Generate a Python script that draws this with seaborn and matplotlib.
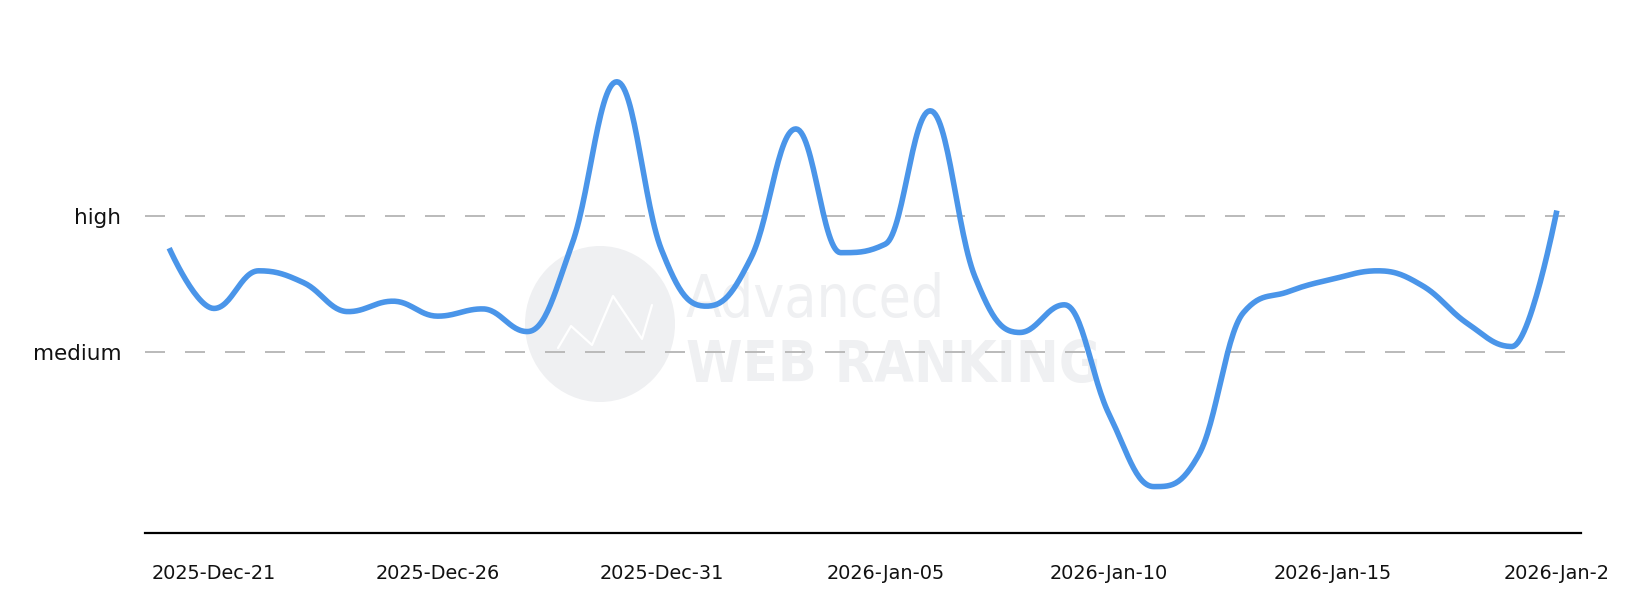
import matplotlib
matplotlib.use("Agg")
import matplotlib.pyplot as plt
from matplotlib.patches import Ellipse
import seaborn as sns
import numpy as np
import pandas as pd

# daily values (0 = axis floor, medium = 4, high = 7)
start_date = "2025-12-20"
values = [6.29, 4.96, 5.79, 5.53, 4.89, 5.12, 4.79, 4.95, 4.45, 6.38,
          9.96, 6.25, 5.01, 6.08, 8.92, 6.19, 6.38, 9.32, 5.66, 4.43,
          5.04, 2.62, 1.03, 1.73, 4.87, 5.33, 5.61, 5.79, 5.46, 4.63,
          4.12, 7.12]
level_values = [4, 7]
level_labels = ["medium", "high"]
tick_dates = ["2025-12-21", "2025-12-26", "2025-12-31", "2026-01-05",
              "2026-01-10", "2026-01-15", "2026-01-20"]
# the last label is cut off in the original picture
tick_labels = ["2025-Dec-21", "2025-Dec-26", "2025-Dec-31", "2026-Jan-05",
               "2026-Jan-10", "2026-Jan-15", "2026-Jan-2"]


def spline_curve(x, y, smoothing=1.5, steps=30):
    """smooth line through the points, same control-point rule as a highcharts spline"""
    n = len(x)
    lcx, lcy = x.copy(), y.copy()
    rcx, rcy = x.copy(), y.copy()
    den = smoothing + 1
    for i in range(1, n - 1):
        lx = (smoothing * x[i] + x[i - 1]) / den
        ly = (smoothing * y[i] + y[i - 1]) / den
        rx = (smoothing * x[i] + x[i + 1]) / den
        ry = (smoothing * y[i] + y[i + 1]) / den
        corr = (ry - ly) * (rx - x[i]) / (rx - lx) + y[i] - ry
        ly += corr
        ry += corr
        if ly > max(y[i - 1], y[i]):
            ly = max(y[i - 1], y[i]); ry = 2 * y[i] - ly
        elif ly < min(y[i - 1], y[i]):
            ly = min(y[i - 1], y[i]); ry = 2 * y[i] - ly
        if ry > max(y[i], y[i + 1]):
            ry = max(y[i], y[i + 1]); ly = 2 * y[i] - ry
        elif ry < min(y[i], y[i + 1]):
            ry = min(y[i], y[i + 1]); ly = 2 * y[i] - ry
        lcx[i], lcy[i], rcx[i], rcy[i] = lx, ly, rx, ry
    t = np.linspace(0, 1, steps)[:, None]
    xs, ys = [], []
    for i in range(1, n):
        p = np.array([[x[i - 1], y[i - 1]], [rcx[i - 1], rcy[i - 1]],
                      [lcx[i], lcy[i]], [x[i], y[i]]])
        b = ((1 - t) ** 3) * p[0] + 3 * ((1 - t) ** 2) * t * p[1] \
            + 3 * (1 - t) * t ** 2 * p[2] + t ** 3 * p[3]
        xs.append(b[:, 0]); ys.append(b[:, 1])
    return np.concatenate(xs), np.concatenate(ys)


sns.set_theme(style="white")
plt.rcParams["font.family"] = ["DejaVu Sans"]

day0 = pd.Timestamp(start_date)
days = np.arange(len(values), dtype=float)
yv = np.array(values, dtype=float)
sx, sy = spline_curve(days, yv)

fig = plt.figure(figsize=(16.52, 6.02), dpi=100)
ax = fig.add_axes([145 / 1652, 1 - 533.3 / 602, 1436 / 1652, 473.3 / 602])

# watermark (logo + name), very light grey
wm = "#eff0f2"
ax.add_patch(Ellipse((600 / 1652, 1 - 324 / 602), 150 / 1652, 156 / 602,
                     transform=fig.transFigure, color=wm, zorder=0.1, lw=0))
mx = np.array([558, 571, 592, 613, 642, 652]) / 1652
my = 1 - np.array([348, 326, 345, 296, 339, 305]) / 602
ax.plot(mx, my, color="white", lw=1.6, transform=fig.transFigure, zorder=0.15)
ax.text(686 / 1652, 1 - 317 / 602, "Advanced", transform=fig.transFigure,
        family="DejaVu Sans", fontstretch="condensed", fontweight="light",
        fontsize=42, color=wm, va="baseline", ha="left", zorder=0.1)
ax.text(686 / 1652, 1 - 382 / 602, "WEB RANKING", transform=fig.transFigure,
        family="DejaVu Sans", fontstretch="condensed", fontweight="bold",
        fontsize=41, color=wm, va="baseline", ha="left", zorder=0.1)

sns.lineplot(x=sx, y=sy, sort=False, estimator=None, color="#4a95e9",
             linewidth=4.0, ax=ax, zorder=3)
ax.lines[-1].set_solid_capstyle("butt")

ax.set_xlim(-0.54, len(values) - 1 + 0.54)
ax.set_ylim(0, 10.44)

tick_ts = pd.to_datetime(tick_dates)
ax.set_xticks([(d - day0).days for d in tick_ts])
ax.set_xticklabels(tick_labels, fontsize=13.9, color="#111111")
ax.set_yticks(level_values)
ax.set_yticklabels(level_labels, fontsize=15.5, color="#111111")
ax.tick_params(axis="x", length=0, pad=22)
ax.tick_params(axis="y", length=0, pad=17)

ax.set_axisbelow(True)
ax.grid(axis="y", color="#bbbbbb", linewidth=1.44, linestyle=(0, (10, 10)))
ax.grid(axis="x", visible=False)
for side in ["top", "left", "right"]:
    ax.spines[side].set_visible(False)
ax.spines["bottom"].set_color("black")
ax.spines["bottom"].set_linewidth(1.6)
ax.set_xlabel("")
ax.set_ylabel("")

fig.savefig("out.png", dpi=100)
